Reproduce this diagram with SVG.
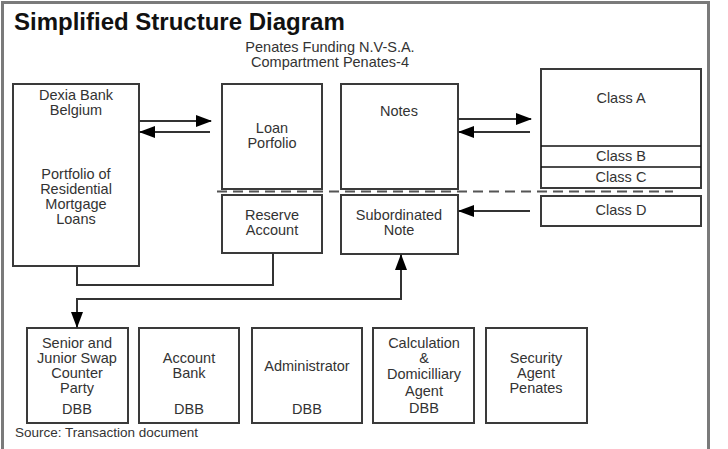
<svg xmlns="http://www.w3.org/2000/svg" width="728" height="449" viewBox="0 0 728 449">
<defs>
<style>
.box{fill:#fff;stroke:#3a3a3a;stroke-width:2}
.t{font-family:"Liberation Sans",Arial,sans-serif;font-size:14.5px;fill:#333;text-anchor:middle}
.ln{fill:none;stroke:#333;stroke-width:2}
.thin{stroke:#111;stroke-width:1.5}
</style>
<marker id="ah" viewBox="0 0 16 12" refX="15" refY="6" markerWidth="16" markerHeight="12" markerUnits="userSpaceOnUse" orient="auto">
<path d="M0,0 L16,6 L0,12 Z" fill="#000"/>
</marker>
</defs>
<rect x="0" y="0" width="728" height="449" fill="#fff"/>
<rect x="2.5" y="2.5" width="706" height="460" fill="none" stroke="#7a7a7a" stroke-width="3"/>
<text x="14" y="30" font-family="Liberation Sans,Arial,sans-serif" font-size="24" font-weight="bold" fill="#111">Simplified Structure Diagram</text>
<text class="t" x="330" y="52">Penates Funding N.V-S.A.</text>
<text class="t" x="330" y="67">Compartment Penates-4</text>

<g id="dexia">
<rect class="box" x="13" y="84" width="126" height="182"/>
<text class="t" x="76" y="100">Dexia Bank</text>
<text class="t" x="76" y="115">Belgium</text>
<text class="t" x="76" y="179">Portfolio of</text>
<text class="t" x="76" y="194">Residential</text>
<text class="t" x="76" y="209">Mortgage</text>
<text class="t" x="76" y="224">Loans</text>
</g>
<g id="loan">
<rect class="box" x="222" y="84" width="100" height="105"/>
<text class="t" x="272" y="133">Loan</text>
<text class="t" x="272" y="148">Porfolio</text>
</g>
<g id="reserve">
<rect class="box" x="222" y="195" width="100" height="58"/>
<text class="t" x="272" y="220">Reserve</text>
<text class="t" x="272" y="235">Account</text>
</g>
<g id="notes">
<rect class="box" x="341" y="84" width="117" height="105"/>
<text class="t" x="399" y="116">Notes</text>
</g>
<g id="subnote">
<rect class="box" x="341" y="195" width="117" height="59"/>
<text class="t" x="399" y="220">Subordinated</text>
<text class="t" x="399" y="235">Note</text>
</g>
<g id="classes">
<rect class="box" x="541" y="69" width="160" height="119"/>
<line class="thin" x1="541" y1="146" x2="701" y2="146"/>
<line class="thin" x1="541" y1="167" x2="701" y2="167"/>
<text class="t" x="621" y="103">Class A</text>
<text class="t" x="621" y="161">Class B</text>
<text class="t" x="621" y="182">Class C</text>
</g>
<g id="classd">
<rect class="box" x="541" y="196" width="160" height="30"/>
<text class="t" x="621" y="215">Class D</text>
</g>

<g id="swap">
<rect class="box" x="27" y="328" width="101" height="95"/>
<text class="t" x="77" y="348">Senior and</text>
<text class="t" x="77" y="363">Junior Swap</text>
<text class="t" x="77" y="378">Counter</text>
<text class="t" x="77" y="393">Party</text>
<text class="t" x="77" y="414">DBB</text>
</g>
<g id="accountbank">
<rect class="box" x="139" y="328" width="100" height="95"/>
<text class="t" x="189" y="363">Account</text>
<text class="t" x="189" y="378">Bank</text>
<text class="t" x="189" y="414">DBB</text>
</g>
<g id="admin">
<rect class="box" x="252" y="328" width="110" height="95"/>
<text class="t" x="307" y="371">Administrator</text>
<text class="t" x="307" y="414">DBB</text>
</g>
<g id="calc">
<rect class="box" x="373" y="328" width="101" height="95"/>
<text class="t" x="424" y="348">Calculation</text>
<text class="t" x="424" y="363">&amp;</text>
<text class="t" x="424" y="379">Domicilliary</text>
<text class="t" x="424" y="396">Agent</text>
<text class="t" x="424" y="413">DBB</text>
</g>
<g id="security">
<rect class="box" x="486" y="328" width="101" height="95"/>
<text class="t" x="536" y="363">Security</text>
<text class="t" x="536" y="378">Agent</text>
<text class="t" x="536" y="393">Penates</text>
</g>

<g id="connectors">
<line x1="217" y1="191.5" x2="673" y2="191.5" stroke="#555" stroke-width="2" stroke-dasharray="10,6"/>
<line class="ln" x1="139" y1="121" x2="211" y2="121" marker-end="url(#ah)"/>
<line class="ln" x1="210" y1="132" x2="140" y2="132" marker-end="url(#ah)"/>
<line class="ln" x1="458" y1="119" x2="531" y2="119" marker-end="url(#ah)"/>
<line class="ln" x1="530" y1="132" x2="459" y2="132" marker-end="url(#ah)"/>
<line class="ln" x1="530" y1="211" x2="459" y2="211" marker-end="url(#ah)"/>
<path class="ln" d="M77,266 V285 H273 V253"/>
<path class="ln" d="M401,299 H77 V327" marker-end="url(#ah)"/>
<path class="ln" d="M77,299 H401 V255" marker-end="url(#ah)"/>
</g>
<text x="15" y="437" font-family="Liberation Sans,Arial,sans-serif" font-size="13.5" fill="#333">Source: Transaction document</text>
</svg>
